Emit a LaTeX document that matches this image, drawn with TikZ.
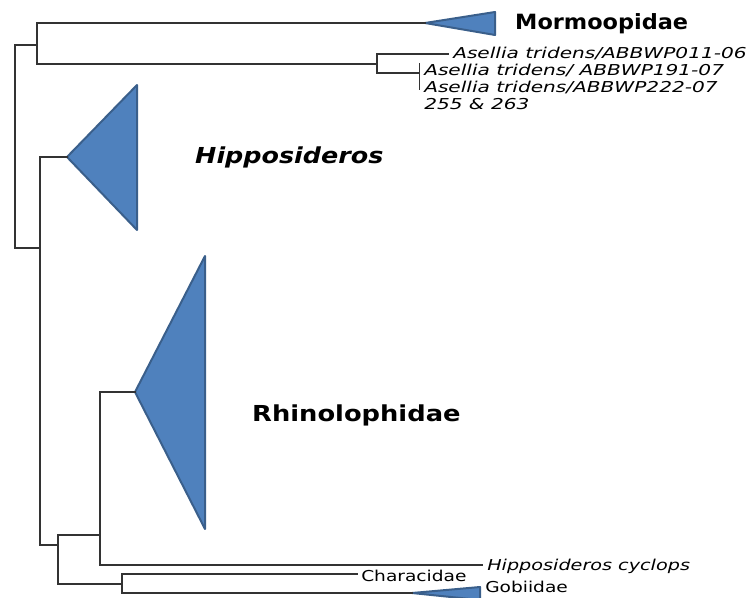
\documentclass[tikz,border=0pt]{standalone}
\usepackage{fontspec}
\setmainfont{DejaVu Sans}
\definecolor{cladefill}{HTML}{4F81BD}
\definecolor{cladeedge}{HTML}{3A5F8B}
\definecolor{branch}{HTML}{333333}
\begin{document}
\begin{tikzpicture}[x=1pt,y=-1pt,
  br/.style={draw=branch, line width=2pt, line cap=rect},
  thinbr/.style={draw=branch, line width=0.8pt},
  clade/.style={fill=cladefill, draw=cladeedge, line width=2pt, line join=round},
  biglab/.style={anchor=west, inner sep=0pt, font=\fontsize{22}{24}\selectfont\bfseries},
  itlab/.style={anchor=west, inner sep=0pt, font=\fontsize{15}{17}\selectfont\itshape},
  smlab/.style={anchor=west, inner sep=0pt, font=\fontsize{15}{17}\selectfont, xscale=1.24}]
\useasboundingbox (0,0) rectangle (754,597);
\clip (0,0) rectangle (754,597);
% internal nodes
\coordinate (r0t) at (15,45);  \coordinate (r0b) at (15,248);
\coordinate (n1t) at (37,23);  \coordinate (n1b) at (37,64);
\coordinate (n2t) at (40,157); \coordinate (n2b) at (40,545);
\coordinate (n3t) at (377,54); \coordinate (n3b) at (377,73);
\coordinate (n4t) at (419,63); \coordinate (n4b) at (419,90);
\coordinate (n5t) at (58,535); \coordinate (n5b) at (58,584);
\coordinate (n6t) at (100,392);\coordinate (n6b) at (100,565);
\coordinate (n7t) at (122,574);\coordinate (n7b) at (122,593);
% clade apexes
\coordinate (mA) at (425,23);
\coordinate (hA) at (67,157);
\coordinate (rA) at (135,392);
\coordinate (gA) at (412,593);
% leaf ends
\coordinate (a1) at (448,54);
\coordinate (cyc) at (482,565);
\coordinate (cha) at (357,574);
% collapsed clades
\draw[clade] (mA) -- (495,12) -- (495,35) -- cycle;
\draw[clade] (hA) -- (137,85) -- (137,230) -- cycle;
\draw[clade] (rA) -- (205,256) -- (205,529) -- cycle;
\draw[clade] (gA) -- (480,587) -- (480,600) -- cycle;
% branches
\draw[br] (r0t) -- (r0b);
\draw[br] (r0t) -- (r0t -| n1t);
\draw[br] (n1t) -- (n1b);
\draw[br] (n1t) -- (mA);
\draw[br] (n1b) -- (n1b -| n3t);
\draw[br] (n3t) -- (n3b);
\draw[br] (n3t) -- (a1);
\draw[br] (n3b) -- (n3b -| n4t);
\draw[thinbr] (n4t) -- (n4b);
\draw[br] (r0b) -- (r0b -| n2t);
\draw[br] (n2t) -- (n2b);
\draw[br] (n2t) -- (hA);
\draw[br] (n2b) -- (n2b -| n5t);
\draw[br] (n5t) -- (n5b);
\draw[br] (n5t) -- (n5t -| n6t);
\draw[br] (n6t) -- (n6b);
\draw[br] (n6t) -- (rA);
\draw[br] (n6b) -- (cyc);
\draw[br] (n5b) -- (n5b -| n7t);
\draw[br] (n7t) -- (n7b);
\draw[br] (n7t) -- (cha);
\draw[br] (n7b) -- (gA);
% labels
\node[biglab, font=\fontsize{21}{24}\selectfont\bfseries, xscale=1.067] (lm) at (515,24) {Mormoopidae};
\node[itlab, xscale=1.34] (la1) at (453,53) {Asellia tridens/ABBWP011-06};
\node[itlab, xscale=1.34] (la2) at (424,70) {Asellia tridens/ ABBWP191-07};
\node[itlab, xscale=1.34] (la3) at (424,87) {Asellia tridens/ABBWP222-07};
\node[itlab, xscale=1.34] (la4) at (424,104) {255 \& 263};
\node[biglab, font=\fontsize{22}{24}\selectfont\bfseries\itshape, xscale=1.155] (lh) at (195,157) {Hipposideros};
\node[biglab, xscale=1.17] (lr) at (252,415) {Rhinolophidae};
\node[itlab, xscale=1.28] (lc) at (487,566) {Hipposideros cyclops};
\node[smlab] (lch) at (361,576) {Characidae};
\node[smlab] (lg) at (485,587) {Gobiidae};
\end{tikzpicture}
\end{document}
